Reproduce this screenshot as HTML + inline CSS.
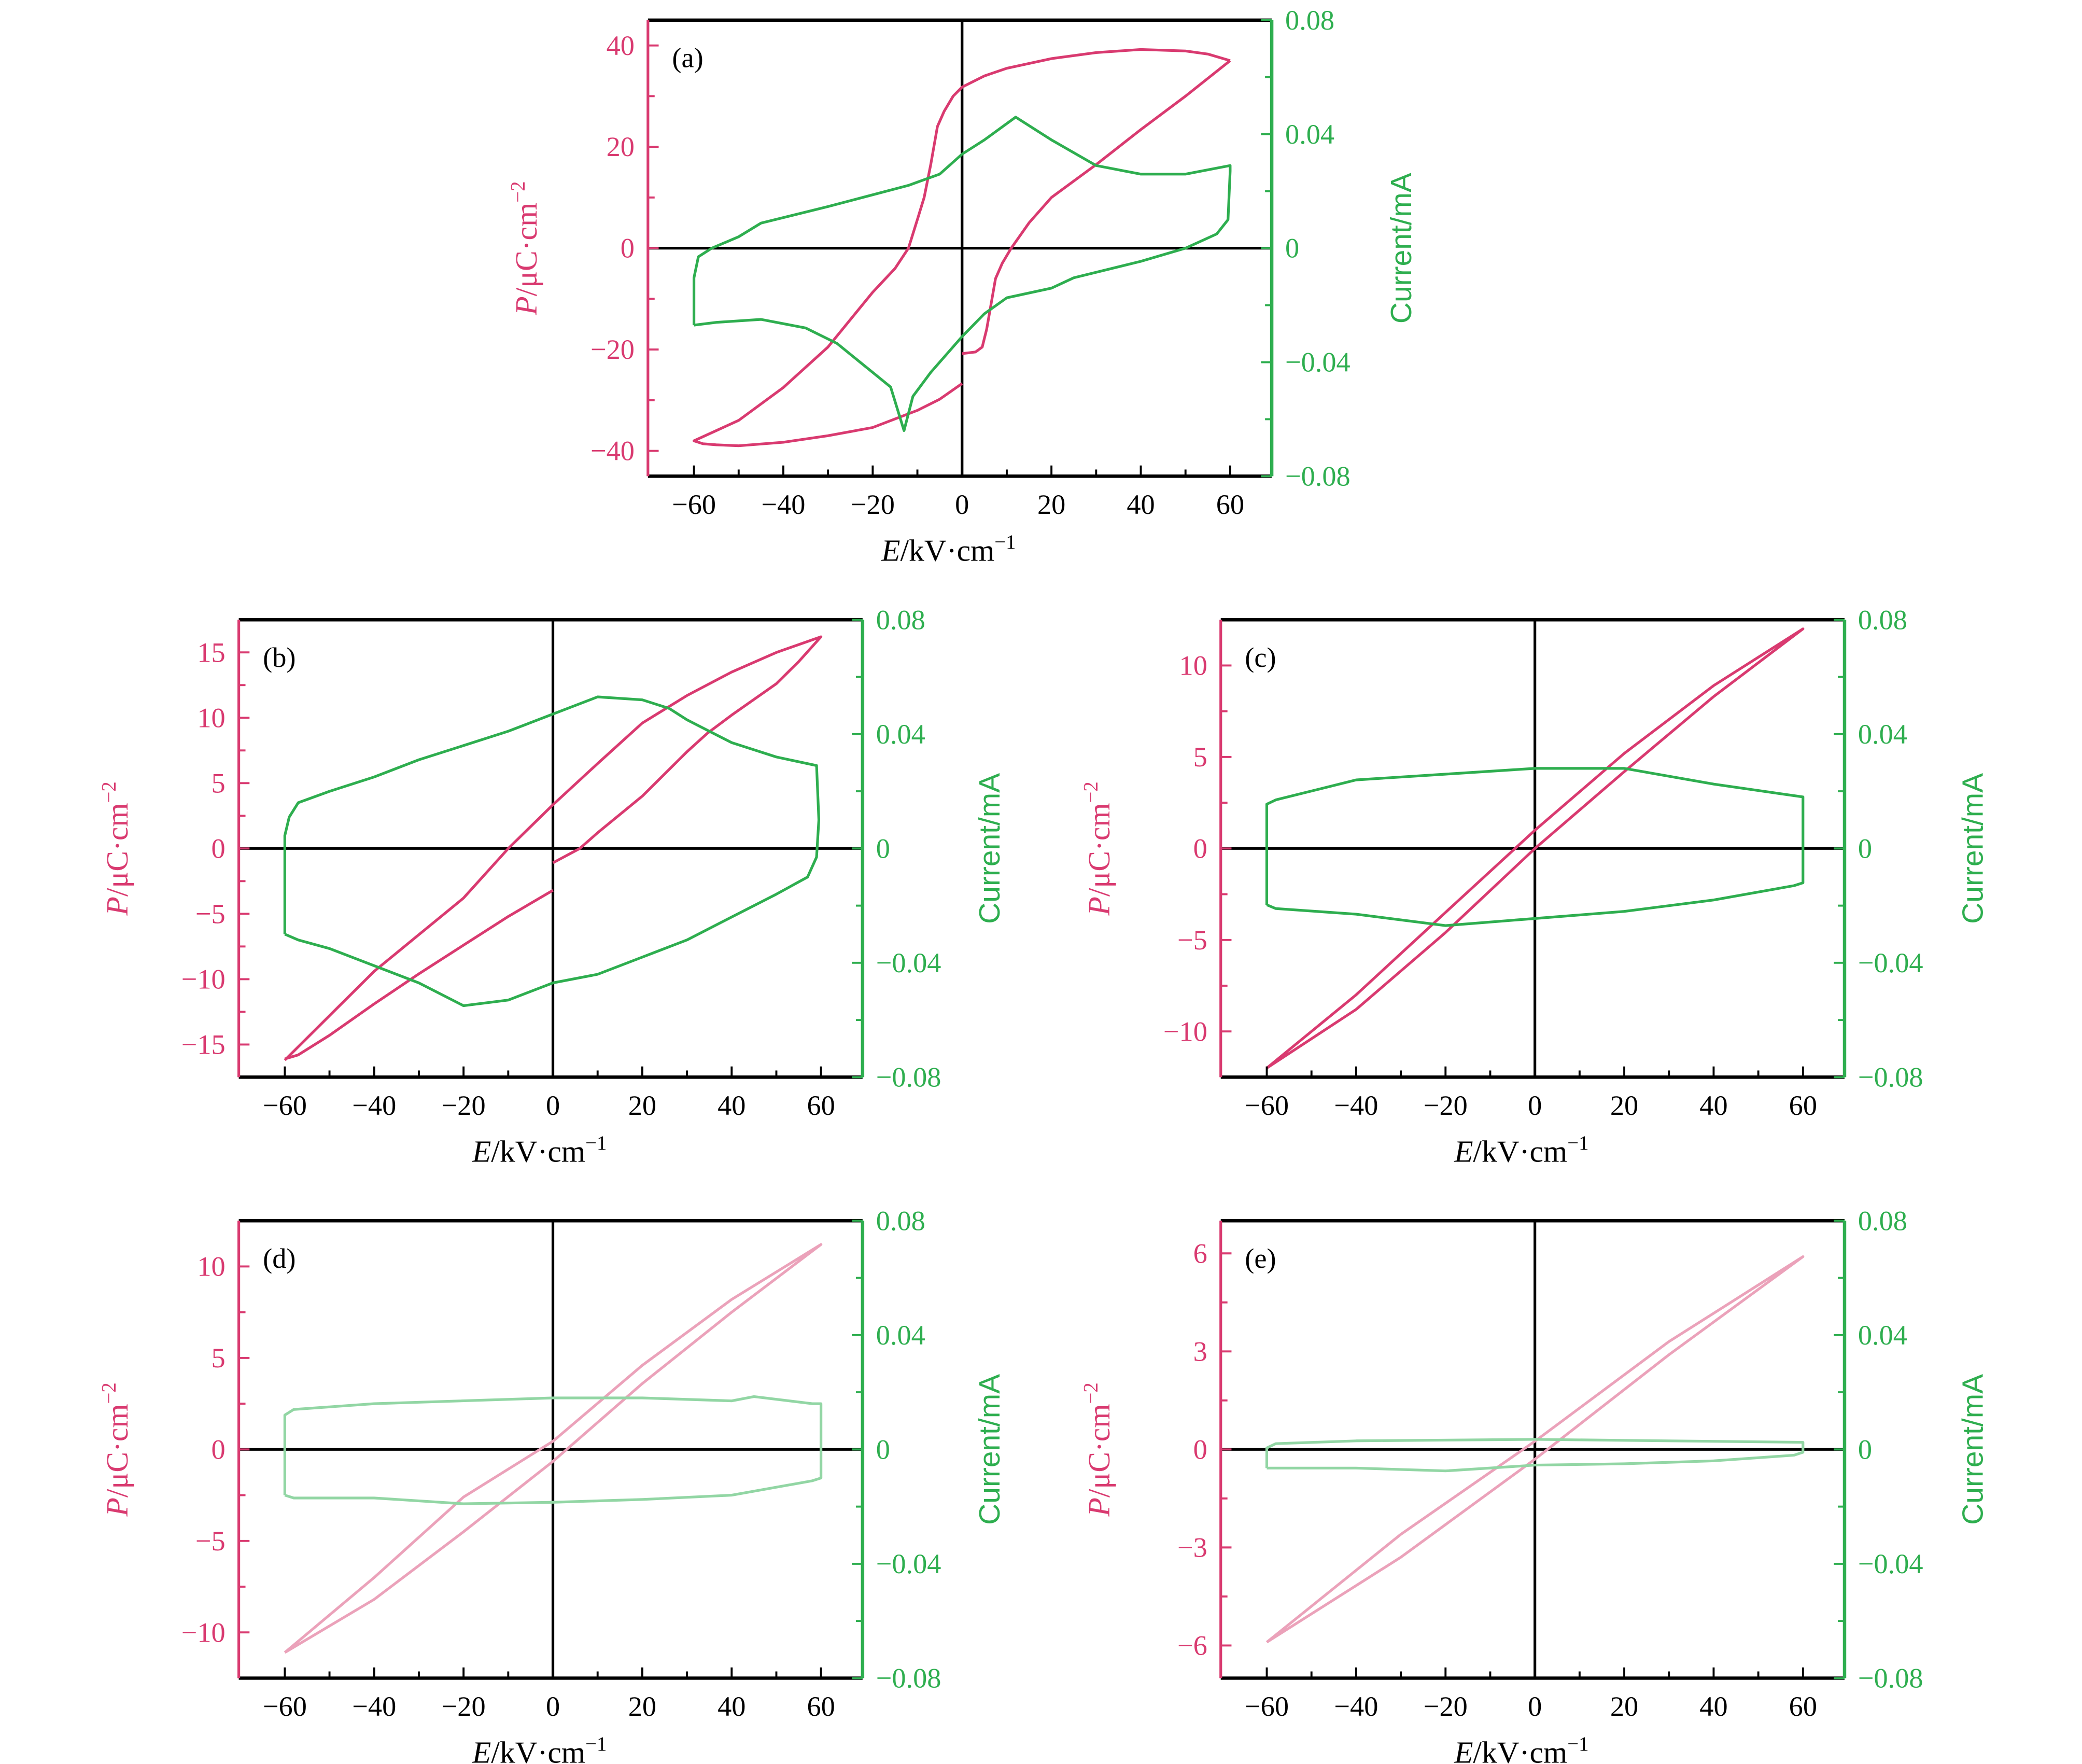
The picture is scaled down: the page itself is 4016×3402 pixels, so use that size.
<!DOCTYPE html>
<html><head><meta charset="utf-8"><style>
html,body{margin:0;padding:0;background:#fff;}
svg{display:block;}
</style></head><body>
<svg id="fig" xmlns="http://www.w3.org/2000/svg" width="4016" height="3402" viewBox="0 0 1552 1315" preserveAspectRatio="none"></svg>
<script>
// ---- Data (E in kV/cm, P in uC/cm^2, I in mA) ----
const aP_E=[60,55,50,40,30,20,10,5,0,-2,-4,-5.5,-7,-8.5,-10,-12,-15,-20,-30,-40,-50,-60,-58,-55,-50,-40,-30,-20,-10,-5,0];
const aP_P=[37,38.3,38.9,39.2,38.6,37.4,35.5,34,31.8,30,27,24,16.5,10,5.7,0,-4,-8.7,-19.5,-27.5,-34,-38,-38.6,-38.8,-39,-38.3,-37,-35.4,-32,-29.8,-26.7];
const aP2_E=[0,3,4.5,5.5,6.5,7.5,9,11,15,20,30,40,50,60];
const aP2_P=[-20.8,-20.5,-19.5,-16,-11,-6,-3,0,5,10,16.5,23.4,30,37];
const aI_E=[-60,-60,-59,-56,-50,-45,-30,-12,-5,0,5,12,20,30,40,50,60,60,59.5,57,50,40,25,20,10,5,0,-7,-11,-13,-16,-20,-28,-35,-45,-55,-60];
const aI_I=[-0.027,-0.0104,-0.003,0,0.004,0.0088,0.0146,0.022,0.026,0.033,0.038,0.046,0.038,0.029,0.026,0.026,0.029,0.027,0.01,0.005,0,-0.0046,-0.0104,-0.014,-0.0174,-0.023,-0.031,-0.0436,-0.052,-0.064,-0.0487,-0.0436,-0.0334,-0.028,-0.025,-0.026,-0.027];

const bP_E=[-60,-50,-40,-30,-20,-10,0,10,20,30,40,50,60,55,50,40,34.5,30,20,10,6,0];
const bP_P=[-16.2,-12.8,-9.4,-6.6,-3.8,0,3.35,6.5,9.6,11.7,13.5,15,16.2,14.3,12.6,10.2,8.8,7.4,4,1.2,0,-1.1];
const bP2_E=[0,-10,-20,-30,-40,-50,-57,-60];
const bP2_P=[-3.2,-5.2,-7.4,-9.6,-11.9,-14.3,-15.8,-16.1];
const bI_E=[-60,-60,-59,-57,-50,-40,-30,-20,-10,0,10,20,26,30,40,50,59,59.5,59,57,50,40,30,20,10,0,-10,-20,-30,-40,-50,-57,-60];
const bI_I=[-0.030,0.0045,0.011,0.016,0.020,0.025,0.031,0.036,0.041,0.047,0.053,0.052,0.049,0.045,0.037,0.032,0.029,0.01,-0.003,-0.010,-0.016,-0.024,-0.032,-0.038,-0.044,-0.047,-0.053,-0.055,-0.047,-0.041,-0.035,-0.032,-0.030];

const cP_E=[-60,-40,-20,0,20,40,60,40,20,0,-20,-40,-60];
const cP_P=[-12,-8,-3.5,1,5.2,8.9,12,8.3,4.2,0,-4.6,-8.8,-12];
const cI_E=[-60,-60,-58,-40,-20,0,20,40,60,60,58,40,20,0,-20,-40,-58,-60];
const cI_I=[-0.0197,0.0155,0.017,0.024,0.026,0.028,0.028,0.0225,0.018,-0.012,-0.013,-0.018,-0.022,-0.0245,-0.027,-0.023,-0.021,-0.0197];

const dP_E=[-60,-40,-20,0,20,40,60,40,20,0,-20,-40,-60];
const dP_P=[-11.1,-7,-2.6,0.45,4.6,8.2,11.2,7.5,3.6,-0.65,-4.5,-8.2,-11.1];
const dI_E=[-60,-60,-58,-40,0,20,40,45,58,60,60,58,40,20,0,-20,-40,-58,-60];
const dI_I=[-0.016,0.012,0.014,0.016,0.018,0.018,0.017,0.0185,0.016,0.016,-0.01,-0.011,-0.016,-0.0175,-0.0185,-0.019,-0.017,-0.017,-0.016];

const eP_E=[-60,-30,0,30,60,30,0,-30,-60];
const eP_P=[-5.9,-2.6,0.25,3.3,5.9,2.9,-0.3,-3.3,-5.9];
const eI_E=[-60,-60,-58,-40,0,60,60,58,40,20,0,-20,-40,-60];
const eI_I=[-0.0065,0.0005,0.002,0.003,0.0035,0.0025,-0.001,-0.002,-0.004,-0.005,-0.0055,-0.0075,-0.0065,-0.0065];

const eTicks=[-60,-40,-20,0,20,40,60];
const iTicks=[-0.08,-0.04,0,0.04,0.08];
const iTickLabels=["\u22120.08","\u22120.04","0","0.04","0.08"];

const PINK="#d93a70",GREEN="#2eae4f",LPINK="#eba2ba",LGREEN="#92d6a4";
const NS="http://www.w3.org/2000/svg";
const svg=document.getElementById('fig');
function el(tag,attrs,parent,txt){const e=document.createElementNS(NS,tag);for(const k in attrs)e.setAttribute(k,attrs[k]);if(txt!==undefined)e.textContent=txt;(parent||svg).appendChild(e);return e;}
function fmt(v){return v<0?"\u2212"+Math.abs(v):String(v);}

const panels=[
 {id:'a',x0:483,x1:948,y0:15,y1:355,pmax:45,pTicks:[-40,-20,0,20,40],pMinor:10,loops:[[aP_E,aP_P],[aP2_E,aP2_P]],cur:[aI_E,aI_I],pc:PINK,ic:GREEN,yl:400,yr:1052},
 {id:'b',x0:178,x1:643,y0:462,y1:803,pmax:17.5,pTicks:[-15,-10,-5,0,5,10,15],pMinor:2.5,loops:[[bP_E,bP_P],[bP2_E,bP2_P]],cur:[bI_E,bI_I],pc:PINK,ic:GREEN,yl:95,yr:745},
 {id:'c',x0:910,x1:1375,y0:462,y1:803,pmax:12.5,pTicks:[-10,-5,0,5,10],pMinor:2.5,loops:[[cP_E,cP_P]],cur:[cI_E,cI_I],pc:PINK,ic:GREEN,yl:827,yr:1478},
 {id:'d',x0:178,x1:643,y0:910,y1:1251,pmax:12.5,pTicks:[-10,-5,0,5,10],pMinor:2.5,loops:[[dP_E,dP_P]],cur:[dI_E,dI_I],pc:LPINK,ic:LGREEN,yl:95,yr:745},
 {id:'e',x0:910,x1:1375,y0:910,y1:1251,pmax:7,pTicks:[-6,-3,0,3,6],pMinor:1.5,loops:[[eP_E,eP_P]],cur:[eI_E,eI_I],pc:LPINK,ic:LGREEN,yl:827,yr:1478}
];

panels.forEach(p=>{
 const g=el('g',{});
 
 
 const xs=v=>p.x0+(v+70.3)/(139.6)*(p.x1-p.x0);
 const ys=v=>p.y1-(v+p.pmax)/(2*p.pmax)*(p.y1-p.y0);
 const is=v=>p.y1-(v+0.08)/0.16*(p.y1-p.y0);
 const zh=el('line',{x1:p.x0,x2:p.x1,y1:ys(0),y2:ys(0),stroke:'#000','stroke-width':2},g);
 
 const zv=el('line',{x1:xs(0),x2:xs(0),y1:p.y0,y2:p.y1,stroke:'#000','stroke-width':2},g);
 
 p.loops.forEach((l,k)=>{
  const pts=l[0].map((e,i)=>xs(e).toFixed(1)+','+ys(l[1][i]).toFixed(1)).join(' ');
  const pl=el('polyline',{points:pts,fill:'none',stroke:p.pc,'stroke-width':2,'stroke-linejoin':'round'},g);
  
 });
 const cpts=p.cur[0].map((e,i)=>xs(e).toFixed(1)+','+is(p.cur[1][i]).toFixed(1)).join(' ');
 const cl=el('polyline',{points:cpts,fill:'none',stroke:p.ic,'stroke-width':2,'stroke-linejoin':'round'},g);
 
 el('line',{x1:p.x0,x2:p.x1,y1:p.y0,y2:p.y0,stroke:'#000','stroke-width':2.5},g);
 el('line',{x1:p.x0,x2:p.x1,y1:p.y1,y2:p.y1,stroke:'#000','stroke-width':2.5},g);
 el('line',{x1:p.x0,x2:p.x0,y1:p.y0,y2:p.y1,stroke:PINK,'stroke-width':2},g);
 el('line',{x1:p.x1,x2:p.x1,y1:p.y0,y2:p.y1,stroke:GREEN,'stroke-width':2.5},g);
 for(let v=-60;v<=60;v+=10){const maj=v%20===0;el('line',{x1:xs(v),x2:xs(v),y1:p.y1,y2:p.y1-(maj?8:5),stroke:'#000','stroke-width':1.5},g);}
 eTicks.forEach(v=>{const t=el('text',{x:xs(v),y:p.y1+28,'text-anchor':'middle','font-size':21,'font-family':'"Liberation Serif",serif',fill:'#000'},g,fmt(v));
  });
 for(let v=-p.pmax;v<=p.pmax+1e-9;v+=p.pMinor){const r=Math.round(v/p.pMinor)*p.pMinor;if(Math.abs(r)>p.pmax-0.01)continue;
  const maj=p.pTicks.some(t=>Math.abs(t-r)<1e-6);el('line',{x1:p.x0,x2:p.x0+(maj?8:5),y1:ys(r),y2:ys(r),stroke:PINK,'stroke-width':1.5},g);}
 p.pTicks.forEach(v=>{const t=el('text',{x:p.x0-10,y:ys(v)+7,'text-anchor':'end','font-size':21,'font-family':'"Liberation Serif",serif',fill:PINK},g,fmt(v));
  });
 for(let v=-0.08;v<=0.0801;v+=0.02){const maj=Math.abs(Math.round(v*100)%4)===0;el('line',{x1:p.x1,x2:p.x1-(maj?8:5),y1:is(v),y2:is(v),stroke:GREEN,'stroke-width':1.5},g);}
 iTicks.forEach((v,i)=>{const t=el('text',{x:p.x1+10,y:is(v)+7,'font-size':21,'font-family':'"Liberation Serif",serif',fill:GREEN},g,iTickLabels[i]);
  });
 const lb=el('text',{x:p.x0+18,y:p.y0+35,'font-size':21,'font-family':'"Liberation Serif",serif',fill:'#000'},g,'('+p.id+')');
 
 const xt=el('text',{x:xs(0)-10,y:p.y1+63,'text-anchor':'middle','font-size':23,'font-family':'"Liberation Serif",serif'},g);
 
 el('tspan',{'font-style':'italic'},xt,'E');el('tspan',{},xt,'/kV\u00b7cm');el('tspan',{dy:-9,'font-size':15},xt,'\u22121');
 const cy=(p.y0+p.y1)/2;
 const yt=el('text',{x:p.yl,y:cy,'text-anchor':'middle','font-size':23,'font-family':'"Liberation Serif",serif',fill:PINK,transform:`rotate(-90 ${p.yl} ${cy})`},g);
 
 el('tspan',{'font-style':'italic'},yt,'P');el('tspan',{},yt,'/\u03bcC\u00b7cm');el('tspan',{dy:-9,'font-size':15},yt,'\u22122');
 const rt=el('text',{x:p.yr,y:cy,'text-anchor':'middle','font-size':22,'font-family':'"Liberation Sans",sans-serif',fill:GREEN,transform:`rotate(-90 ${p.yr} ${cy})`},g,'Current/mA');
 
});
</script>
</body></html>
